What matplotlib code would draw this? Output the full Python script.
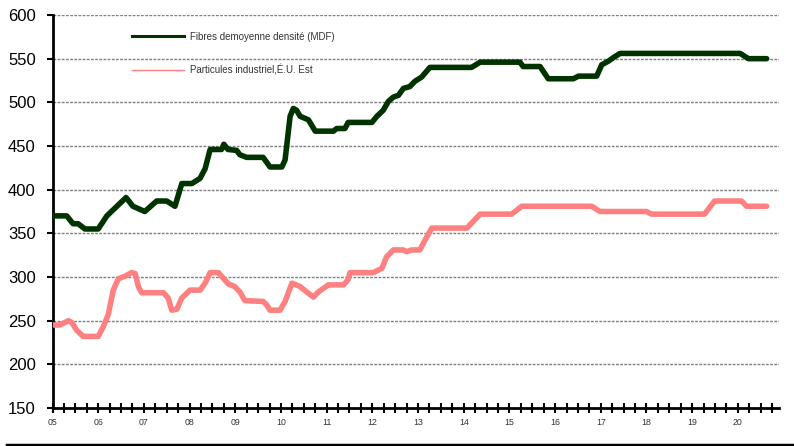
import matplotlib
matplotlib.use("Agg")
import matplotlib.pyplot as plt
from matplotlib.lines import Line2D
import numpy as np

mdf_years = [2005.02, 2005.31, 2005.45, 2005.56, 2005.71, 2006.00, 2006.19, 2006.43,
             2006.61, 2006.76, 2007.02, 2007.28, 2007.50, 2007.68, 2007.83, 2008.05,
             2008.23, 2008.34, 2008.45, 2008.70, 2008.75, 2008.84, 2009.03, 2009.10,
             2009.25, 2009.61, 2009.76, 2010.02, 2010.09, 2010.20, 2010.27, 2010.34,
             2010.42, 2010.60, 2010.67, 2010.75, 2011.15, 2011.22, 2011.40, 2011.47,
             2011.99, 2012.10, 2012.24, 2012.35, 2012.46, 2012.57, 2012.68, 2012.82,
             2012.93, 2013.08, 2013.26, 2014.17, 2014.36, 2015.23, 2015.30, 2015.67,
             2015.85, 2016.40, 2016.51, 2016.91, 2017.02, 2017.16, 2017.27, 2017.42,
             2020.05, 2020.23, 2020.63]
mdf_values = [370, 370, 361, 361, 355, 355, 370, 382,
              391, 381, 375, 387, 387, 381, 407, 407,
              413, 424, 446, 446, 452, 446, 445, 440,
              437, 437, 426, 426, 434, 484, 493, 491,
              484, 480, 474, 467, 467, 470, 470, 477,
              477, 484, 491, 501, 506, 508, 516, 518,
              524, 529, 540, 540, 546, 546, 541, 541,
              527, 527, 530, 530, 543, 547, 551, 556,
              556, 550, 550]

pb_years = [2005.02, 2005.16, 2005.35, 2005.42, 2005.53, 2005.67, 2006.00, 2006.11,
            2006.22, 2006.33, 2006.44, 2006.59, 2006.73, 2006.81, 2006.88, 2006.95,
            2007.43, 2007.53, 2007.61, 2007.72, 2007.83, 2008.01, 2008.23, 2008.34,
            2008.45, 2008.63, 2008.85, 2008.99, 2009.10, 2009.21, 2009.61, 2009.69,
            2009.76, 2009.98, 2010.09, 2010.24, 2010.42, 2010.56, 2010.71, 2010.82,
            2011.04, 2011.37, 2011.47, 2011.51, 2012.02, 2012.21, 2012.31, 2012.46,
            2012.68, 2012.75, 2012.86, 2013.04, 2013.15, 2013.30, 2014.07, 2014.36,
            2015.05, 2015.27, 2016.80, 2016.98, 2018.00, 2018.11, 2019.27, 2019.49,
            2020.08, 2020.19, 2020.63]
pb_values = [245, 245, 250, 248, 239, 232, 232, 243,
             257, 285, 298, 301, 305, 304, 289, 282,
             282, 276, 262, 263, 276, 285, 285, 293,
             305, 305, 292, 289, 283, 273, 272, 268,
             262, 262, 272, 293, 289, 283, 277, 283,
             291, 291, 297, 305, 305, 310, 323, 331,
             331, 329, 331, 331, 342, 356, 356, 372,
             372, 381, 381, 375, 375, 372, 372, 387,
             387, 381, 381]

mdf_label = "Fibres demoyenne densité (MDF)"
pb_label = "Particules industriel,É.U. Est"
year_labels = ["05", "06", "07", "08", "09", "10", "11", "12",
               "13", "14", "15", "16", "17", "18", "19", "20"]

plt.rcParams['font.family'] = ['Liberation Sans', 'DejaVu Sans']

W, H = 794, 446
fig = plt.figure(figsize=(W / 100, H / 100), dpi=100)
ax = fig.add_axes([52.5 / W, 1 - 408 / H, (779 - 52.5) / W, (408 - 15) / H])

green = "#003300"
pink = "#ff8080"

# grid lines
for v in range(200, 601, 50):
    ax.axhline(v, color="#7f7f7f", lw=1.0, ls=(0, (2, 1)), zorder=1)

ax.plot(mdf_years, mdf_values, color=green, lw=4.0, solid_joinstyle="round",
        solid_capstyle="round", zorder=3)
ax.plot(pb_years, pb_values, color=pink, lw=4.0, solid_joinstyle="round",
        solid_capstyle="round", zorder=3)

ax.set_xlim(2005, 2020.9)
ax.set_ylim(150, 600)

ax.set_yticks(range(150, 601, 50))
ax.tick_params(axis="y", labelsize=12, length=4, width=1.5, direction="out", pad=8)

ax.set_xticks(np.arange(2005, 2021))
ax.set_xticklabels(year_labels)
ax.set_xticks(np.arange(2005, 2020.9, 0.25), minor=True)
ax.tick_params(axis="x", which="both", direction="inout", length=7, width=1.5,
               labelsize=6.3, pad=4, labelcolor="#333333")

for s in ["top", "right"]:
    ax.spines[s].set_visible(False)
for s in ["left", "bottom"]:
    ax.spines[s].set_linewidth(2)

handles = [Line2D([], [], color=green, lw=2.2), Line2D([], [], color=pink, lw=1.0)]
leg = ax.legend(handles, [mdf_label, pb_label], loc="upper left",
                bbox_to_anchor=(128 / W, 1 - 28 / H), bbox_transform=fig.transFigure,
                frameon=False, fontsize=7, handlelength=5.4, handletextpad=0.6,
                labelspacing=2.3, borderaxespad=0)
for t in leg.get_texts():
    t.set_color("#333333")

# thick rule along the bottom
fig.add_artist(Line2D([7 / W, 1], [1.5 / H, 1.5 / H], color="black", lw=2.5,
                      transform=fig.transFigure))

fig.savefig("out.png", dpi=100)
